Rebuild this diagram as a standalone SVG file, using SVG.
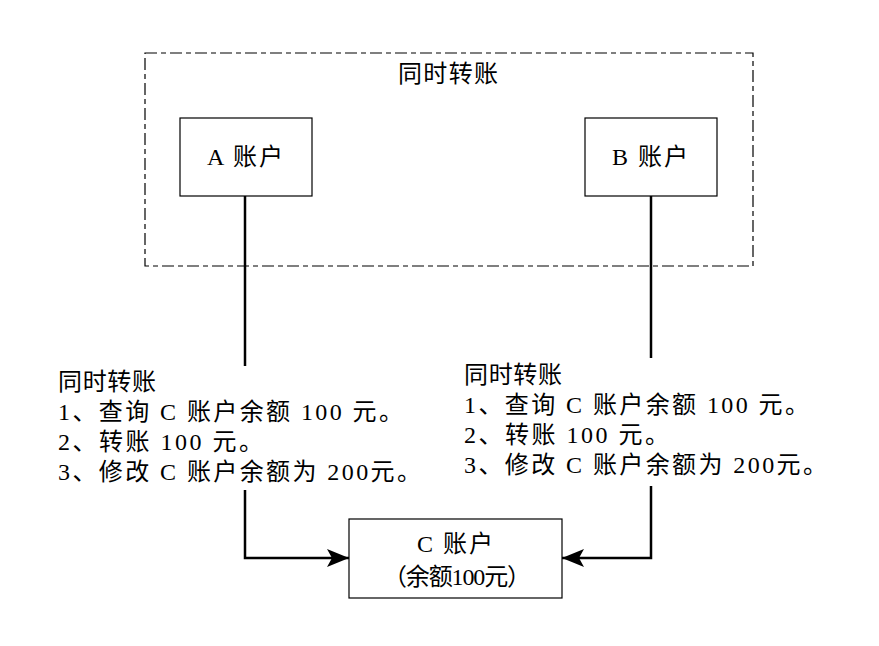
<svg xmlns="http://www.w3.org/2000/svg" width="879" height="646" viewBox="0 0 879 646">
<defs>
<style>
text{font-family:"Liberation Serif","Noto Sans CJK SC",serif;font-size:24px;fill:#000}
.box{fill:#fff;stroke:#000;stroke-width:1.2}
.conn{fill:none;stroke:#000;stroke-width:2.5}
</style>
<marker id="arr" viewBox="0 0 22 18" refX="22" refY="9" markerWidth="22" markerHeight="18" markerUnits="userSpaceOnUse" orient="auto">
<path d="M0,0 L22,9 L0,18 L5,9 Z" fill="#000"/>
</marker>
</defs>
<rect width="879" height="646" fill="#fff"/>
<g id="group-frame">
<rect x="145" y="53" width="608" height="213" fill="none" stroke="#000" stroke-width="1.2" stroke-dasharray="12 4 5 4"/>
<text x="398" y="82" textLength="100" lengthAdjust="spacing">同时转账</text>
</g>
<g id="connectors">
<path class="conn" d="M245,196 V366"/>
<path class="conn" d="M651,196 V358"/>
<path class="conn" d="M245,490 V558 H349" marker-end="url(#arr)"/>
<path class="conn" d="M651,486 V558 H562" marker-end="url(#arr)"/>
</g>
<g id="node-a">
<rect class="box" x="180" y="118" width="132" height="78"/>
<text x="207" y="165" textLength="76" lengthAdjust="spacing">A 账户</text>
</g>
<g id="node-b">
<rect class="box" x="585" y="118" width="132" height="78"/>
<text x="612" y="165" textLength="76" lengthAdjust="spacing">B 账户</text>
</g>
<g id="node-c">
<rect class="box" x="349" y="519" width="213" height="79"/>
<text x="417" y="552" textLength="76" lengthAdjust="spacing">C 账户</text>
<text x="383" y="585" textLength="148" lengthAdjust="spacing">（余额100元）</text>
</g>
<g id="label-left">
<text x="58" y="390" textLength="98" lengthAdjust="spacing">同时转账</text>
<text x="58" y="420" textLength="345" lengthAdjust="spacing">1、查询 C 账户余额 100 元。</text>
<text x="58" y="450" textLength="205" lengthAdjust="spacing">2、转账 100 元。</text>
<text x="58" y="480" textLength="363" lengthAdjust="spacing">3、修改 C 账户余额为 200元。</text>
</g>
<g id="label-right">
<text x="464" y="383" textLength="98" lengthAdjust="spacing">同时转账</text>
<text x="464" y="413" textLength="345" lengthAdjust="spacing">1、查询 C 账户余额 100 元。</text>
<text x="464" y="443" textLength="205" lengthAdjust="spacing">2、转账 100 元。</text>
<text x="464" y="473" textLength="363" lengthAdjust="spacing">3、修改 C 账户余额为 200元。</text>
</g>
</svg>
